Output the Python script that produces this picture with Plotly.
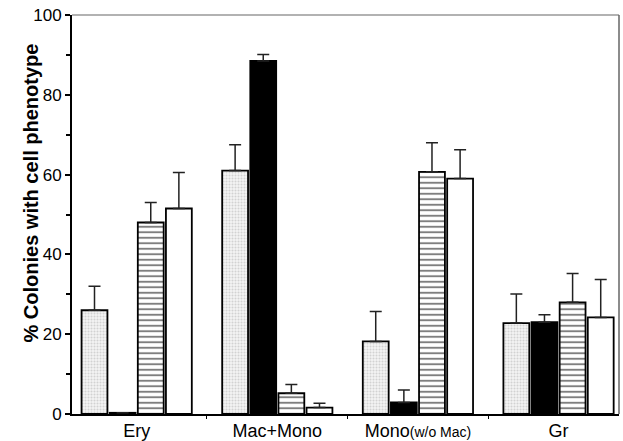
import plotly.graph_objects as go

categories = ["Ery", "Mac+Mono", "Mono<span style='font-size:14px'>(w/o Mac)</span>", "Gr"]

stipple_vals = [26.0, 61.0, 18.2, 22.8]
stipple_err = [6.0, 6.5, 7.5, 7.3]
black_vals = [0.3, 88.5, 2.9, 23.0]
black_err = [0.0, 1.6, 3.1, 1.9]
hline_vals = [48.0, 5.2, 60.7, 28.0]
hline_err = [5.0, 2.2, 7.3, 7.2]
white_vals = [51.5, 1.6, 59.0, 24.2]
white_err = [9.0, 1.1, 7.2, 9.5]

y_title = "<b>% Colonies with cell phenotype</b>"

series = [
    (stipple_vals, stipple_err, dict(color="white", pattern=dict(shape=".", fgcolor="#b0b0b0", bgcolor="#f4f4f4", size=3, solidity=0.4))),
    (black_vals, black_err, dict(color="black")),
    (hline_vals, hline_err, dict(color="white", pattern=dict(shape="-", fgcolor="black", bgcolor="white", size=5.5, solidity=0.35))),
    (white_vals, white_err, dict(color="white")),
]

fig = go.Figure()
for vals, errs, mk in series:
    mk = dict(mk)
    mk["line"] = dict(color="black", width=1.8)
    fig.add_trace(go.Bar(
        x=categories, y=vals, marker=mk,
        error_y=dict(type="data", symmetric=False, array=errs, arrayminus=[0]*len(errs),
                     color="#222", thickness=1.5, width=6),
    ))

fig.update_layout(
    width=623, height=441,
    margin=dict(l=72, r=4, t=15, b=27),
    paper_bgcolor="white", plot_bgcolor="white",
    barmode="group", bargap=0.2, bargroupgap=0.08,
    showlegend=False,
    font=dict(family="Liberation Sans, Arial, sans-serif", color="black"),
    xaxis=dict(range=[-0.46, 3.43], showline=True, linecolor="black", linewidth=1.5,
               ticks="outside", tickson="boundaries", ticklen=3, tickcolor="black",
               tickfont=dict(size=18), showgrid=False, zeroline=False, automargin=False),
    yaxis=dict(range=[0, 100], dtick=20, showline=True, linecolor="black", linewidth=2,
               ticks="outside", ticklen=5, tickwidth=1.5, tickcolor="black",
               tickfont=dict(size=17), showgrid=False, zeroline=False, automargin=False,
               minor=dict(dtick=10, ticks="outside", ticklen=4, tickcolor="black", tickwidth=1.5)),
    annotations=[
        dict(text=y_title, xref="paper", yref="paper", x=-0.075, y=0.555,
             xanchor="center", yanchor="middle", textangle=-90, showarrow=False,
             font=dict(size=20, color="black")),
    ],
    shapes=[
        dict(type="line", xref="paper", yref="paper", x0=0, x1=1, y0=1, y1=1,
             line=dict(color="#999", width=1.5)),
        dict(type="line", xref="paper", yref="paper", x0=1, x1=1, y0=0, y1=1,
             line=dict(color="#666", width=1.5)),
    ],
)

fig.write_html("out.html")
